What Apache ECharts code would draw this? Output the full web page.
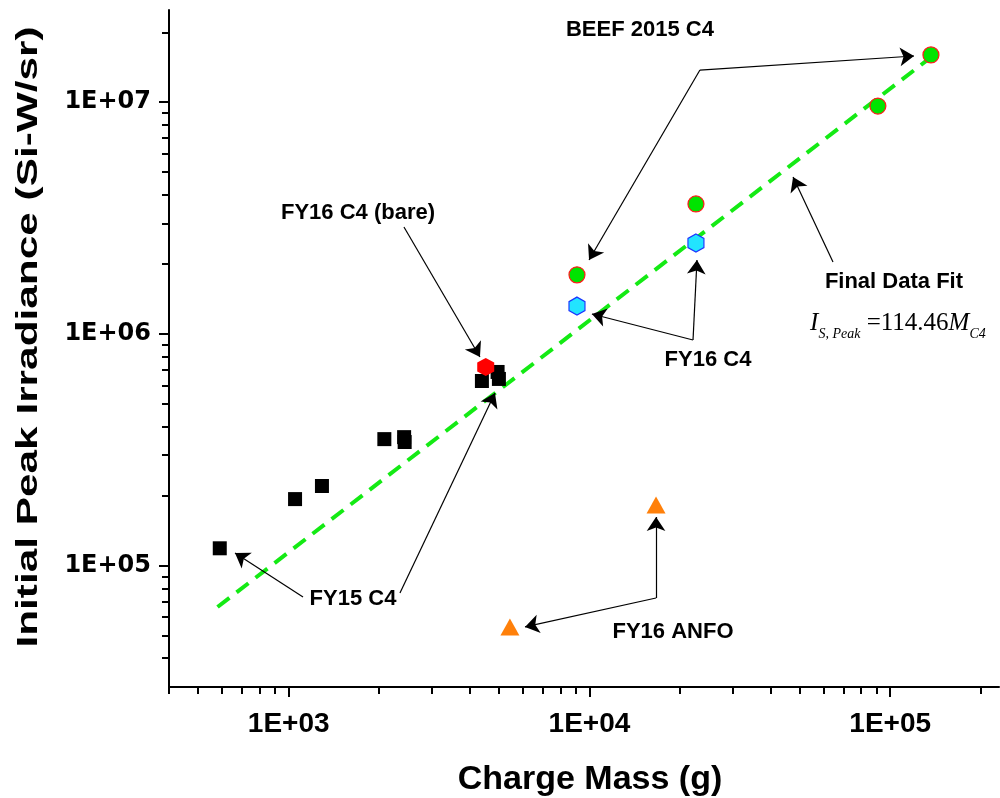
<!DOCTYPE html>
<html>
<head>
<meta charset="utf-8">
<script src="https://cdn.jsdelivr.net/npm/echarts@6/dist/echarts.min.js"></script>
<style>
  html, body { margin: 0; background: #fff; }
  #chart { width: 1000px; height: 798px; }
</style>
</head>
<body>
<div id="chart"></div>
<script>
// charge mass (g), initial peak irradiance (Si-W/sr)
const fy15C4 = [[590, 1.19e5], [1050, 1.94e5], [1290, 2.21e5], [2080, 3.52e5], [2420, 3.59e5],
  [2430, 3.42e5], [4390, 6.27e5], [4950, 6.86e5], [5000, 6.40e5]];
const fy16C4Bare = [[4520, 7.2e5]];
const beef2015C4 = [[9090, 1.8e6], [22600, 3.64e6], [91000, 9.63e6], [136600, 1.6e7]];
const fy16C4 = [[9090, 1.32e6], [22600, 2.47e6]];
const fy16Anfo = [[5440, 5.45e4], [16650, 1.83e5]];
// final data fit, I = 114.46 * M
const fitLine = [[580, 6.64e4], [136000, 1.557e7]];

const xMajor = [1000, 10000, 100000];
const xMinor = [400, 500, 600, 700, 800, 900, 2000, 3000, 4000, 5000, 6000, 7000, 8000, 9000,
  20000, 30000, 40000, 50000, 60000, 70000, 80000, 90000, 200000];
const yMajor = [1e5, 1e6, 1e7];
const yMinor = [4e4, 5e4, 6e4, 7e4, 8e4, 9e4, 2e5, 3e5, 4e5, 5e5, 6e5, 7e5, 8e5, 9e5,
  2e6, 3e6, 4e6, 5e6, 6e6, 7e6, 8e6, 9e6, 2e7];

// annotation texts and arrows (data coordinates)
const notes = [
  ['BEEF 2015 C4', 14720, 2.05e7],
  ['FY16 C4 (bare)', 1700, 3.33e6],
  ['FY15 C4', 1636, 7.19e4],
  ['FY16 C4', 24790, 7.72e5],
  ['FY16 ANFO', 18960, 5.18e4],
  ['Final Data Fit', 102900, 1.676e6]
];
const formulaAt = [106100, 1.11e6];
const arrows = [
  [[23300, 1.377e7], [120000, 1.583e7]],
  [[23300, 1.377e7], [9970, 2.086e6]],
  [[2417, 2.894e6], [4325, 7.96e5]],
  [[1116, 7.33e4], [663, 1.136e5]],
  [[2344, 7.63e4], [4852, 5.57e5]],
  [[64530, 2.045e6], [47530, 4.76e6]],
  [[22100, 9.42e5], [10190, 1.22e6]],
  [[22100, 9.42e5], [22780, 2.086e6]],
  [[16650, 7.26e4], [16650, 1.624e5]],
  [[16650, 7.26e4], [6106, 5.45e4]]
];

const hexagon = 'path://M0,-1 L0.866,-0.5 L0.866,0.5 L0,1 L-0.866,0.5 L-0.866,-0.5 Z';
const sans = '"Liberation Sans", Arial, sans-serif';
const serif = '"Liberation Serif", "Times New Roman", serif';

function expLabel(v) {
  let e = Math.round(Math.log10(v));
  return '1E+' + (e < 10 ? '0' + e : e);
}

const chart = echarts.init(document.getElementById('chart'));

let xBase = {
  type: 'log', logBase: 10, min: 400, max: 230000, position: 'bottom',
  splitLine: { show: false }
};
let yBase = {
  type: 'log', logBase: 10, min: 30000, max: 2.5e7, position: 'left',
  splitLine: { show: false }
};

chart.setOption({
  animation: false,
  grid: { left: 169, right: 1, top: 10, bottom: 111, containLabel: false, outerBoundsMode: 'none' },
  xAxis: [
    Object.assign({}, xBase, {
      axisLine: { show: true, lineStyle: { color: '#000', width: 2 } },
      axisTick: { show: true, customValues: xMajor, length: 10, lineStyle: { color: '#000', width: 2 } },
      axisLabel: {
        customValues: xMajor, formatter: expLabel, margin: 23,
        color: '#000', fontFamily: sans, fontWeight: 'bold', fontSize: 28
      },
      name: 'Charge Mass (g)', nameLocation: 'middle', nameGap: 76,
      nameTextStyle: { color: '#000', fontFamily: sans, fontWeight: 'bold', fontSize: 34, padding: [0, 0, 0, 12] }
    }),
    Object.assign({}, xBase, {
      axisLine: { show: false },
      axisTick: { show: true, customValues: xMinor, length: 7, lineStyle: { color: '#000', width: 2 } },
      axisLabel: { show: false }
    })
  ],
  yAxis: [
    Object.assign({}, yBase, {
      axisLine: { show: true, lineStyle: { color: '#000', width: 2 } },
      axisTick: { show: true, customValues: yMajor, length: 10, lineStyle: { color: '#000', width: 2 } },
      axisLabel: {
        customValues: yMajor, formatter: expLabel, margin: 18,
        color: '#000', fontFamily: '"DejaVu Sans", sans-serif', fontWeight: 'bold', fontSize: 24
      }
    }),
    Object.assign({}, yBase, {
      axisLine: { show: false },
      axisTick: { show: true, customValues: yMinor, length: 7, lineStyle: { color: '#000', width: 2 } },
      axisLabel: { show: false }
    })
  ],
  graphic: [{
    type: 'text', x: 29, y: 337, rotation: Math.PI / 2, scaleX: 1.46,
    style: {
      text: 'Initial Peak Irradiance (Si-W/sr)', fill: '#000',
      font: 'bold 29px ' + sans, align: 'center', verticalAlign: 'middle'
    }
  }],
  series: [
    {
      name: 'Final Data Fit', type: 'line', data: fitLine, showSymbol: false, z: 1,
      lineStyle: { color: '#14ea14', width: 4, type: [15, 9] }
    },
    {
      name: 'FY15 C4', type: 'scatter', data: fy15C4, symbol: 'rect', symbolSize: 14,
      itemStyle: { color: '#000', opacity: 1 }
    },
    {
      name: 'FY16 C4 (bare)', type: 'scatter', data: fy16C4Bare, symbol: hexagon, symbolSize: [17, 18],
      itemStyle: { color: '#ff0000', opacity: 1 }
    },
    {
      name: 'BEEF 2015 C4', type: 'scatter', data: beef2015C4, symbol: 'circle', symbolSize: 16,
      itemStyle: { color: '#00e400', borderColor: '#ff1a1a', borderWidth: 1.2, opacity: 1 }
    },
    {
      name: 'FY16 C4', type: 'scatter', data: fy16C4, symbol: hexagon, symbolSize: [16, 18],
      itemStyle: { color: '#22e4ff', borderColor: '#1a33ff', borderWidth: 1.2, opacity: 1 }
    },
    {
      name: 'FY16 ANFO', type: 'scatter', data: fy16Anfo, symbol: 'triangle', symbolSize: [19, 17],
      itemStyle: { color: '#ff800a', opacity: 1 }
    },
    {
      name: 'notes', type: 'scatter', symbolSize: 1, z: 5, silent: true,
      itemStyle: { color: 'transparent', opacity: 1 },
      label: {
        show: true, position: 'inside', color: '#000',
        fontFamily: sans, fontWeight: 'bold', fontSize: 22,
        formatter: p => p.data.text
      },
      data: notes.map(n => ({ value: [n[1], n[2]], text: n[0] })).concat([{
        value: formulaAt,
        label: {
          formatter: '{i|I}{s|S, Peak}{n| =114.46}{i|M}{s|C4}',
          rich: {
            i: { fontFamily: serif, fontStyle: 'italic', fontWeight: 'normal', fontSize: 25, lineHeight: 36, color: '#000' },
            n: { fontFamily: serif, fontWeight: 'normal', fontSize: 25, lineHeight: 36, color: '#000' },
            s: { fontFamily: serif, fontStyle: 'italic', fontWeight: 'normal', fontSize: 14, lineHeight: 14, verticalAlign: 'bottom', color: '#000' }
          }
        }
      }]),
      markLine: {
        silent: true, symbol: ['none', 'arrow'], symbolSize: 14,
        lineStyle: { color: '#000', width: 1.2, type: 'solid', opacity: 1 },
        label: { show: false },
        data: arrows.map(a => [{ coord: a[0] }, { coord: a[1] }])
      }
    }
  ]
});
</script>
</body>
</html>
